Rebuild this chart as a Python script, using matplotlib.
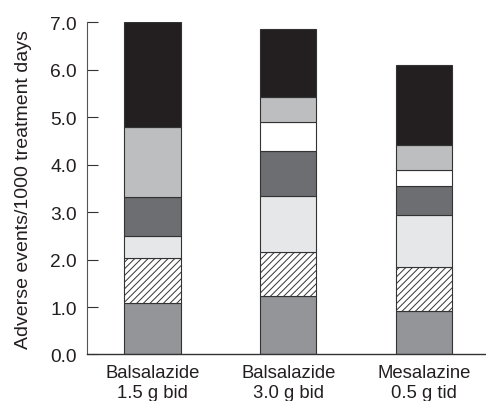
import numpy as np
import matplotlib
matplotlib.use('Agg')
import matplotlib.pyplot as plt

plt.rcParams['font.family'] = ['Liberation Sans', 'DejaVu Sans']
plt.rcParams['hatch.linewidth'] = 0.7

# treatment groups (x tick labels)
groups = ['Balsalazide\n1.5 g bid', 'Balsalazide\n3.0 g bid', 'Mesalazine\n0.5 g tid']

# adverse event rates per 1000 treatment days, stacked bottom -> top
seg1 = [1.08, 1.23, 0.91]
seg2 = [0.95, 0.92, 0.93]
seg3 = [0.47, 1.19, 1.10]
seg4 = [0.82, 0.94, 0.61]
seg5 = [0.00, 0.62, 0.33]
seg6 = [1.48, 0.53, 0.53]
seg7 = [2.20, 1.42, 1.68]

yticks = [0.0, 1.0, 2.0, 3.0, 4.0, 5.0, 6.0, 7.0]

# fill colour and hatch of each stacked layer
styles = [('#939598', ''), ('white', '/////'), ('#e6e7e8', ''), ('#6d6e71', ''),
          ('white', ''), ('#bcbec0', ''), ('#231f20', '')]

fig = plt.figure(figsize=(4.86, 4.02), dpi=100)
ax = fig.add_axes([0.1784, 0.1157, 0.8216, 0.8265])

x = np.arange(len(groups))
bottom = np.zeros(len(groups))
for vals, (fc, hatch) in zip([seg1, seg2, seg3, seg4, seg5, seg6, seg7], styles):
    vals = np.array(vals)
    ax.bar(x, vals, width=0.416, bottom=bottom, color=fc, hatch=hatch,
           edgecolor='#333333', linewidth=0.8)
    bottom += vals

ax.set_xlim(-0.485, 2.457)
ax.set_ylim(0, 7.0)
ax.set_yticks(yticks)
ax.set_yticklabels(['{:.1f}'.format(t) for t in yticks])
ax.set_xticks(x)
ax.set_xticklabels(groups, fontsize=13.3, color='#231f20')
ax.tick_params(axis='x', length=0, pad=7)
ax.tick_params(axis='y', direction='in', length=8, width=0.8, color='#333333',
               labelsize=13.8, labelcolor='#231f20', pad=7)
ax.set_ylabel('Adverse events/1000 treatment days', fontsize=14, color='#231f20')
ax.yaxis.set_label_coords(-0.138, 0.5)

for side in ['top', 'right']:
    ax.spines[side].set_visible(False)
ax.spines['left'].set_color('#555555')
ax.spines['left'].set_linewidth(0.8)
ax.spines['bottom'].set_color('#333333')
ax.spines['bottom'].set_linewidth(1.0)

fig.savefig('out.png', dpi=100)
